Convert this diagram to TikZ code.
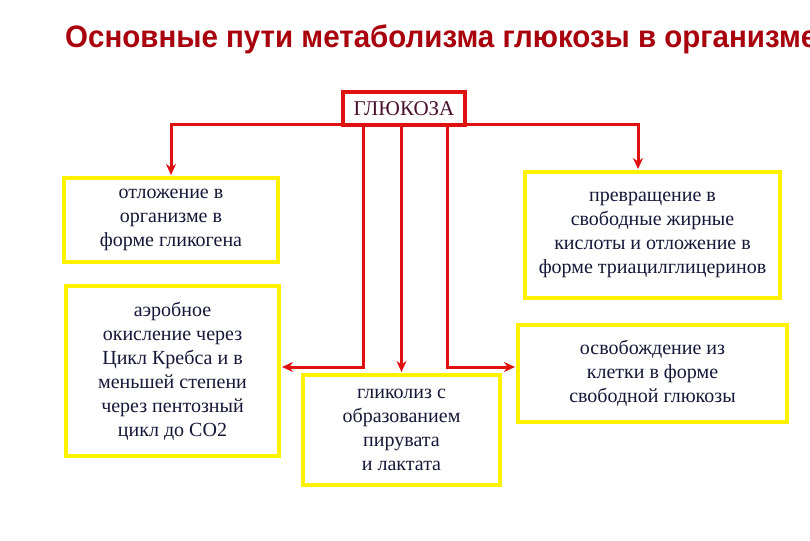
\documentclass[tikz,border=0pt]{standalone}
\usepackage{fontspec}
\setmainfont{Liberation Serif}
\newfontfamily\titlefont{Liberation Sans}
\usetikzlibrary{arrows.meta,calc}
\definecolor{titlered}{HTML}{A8000C}
\definecolor{arrred}{HTML}{E01010}
\definecolor{boxyel}{HTML}{FFF200}
\definecolor{txtnavy}{HTML}{151838}
\definecolor{gluc}{HTML}{4A1030}
\newlength{\ttlw}
\settowidth{\ttlw}{\titlefont\bfseries\fontsize{31pt}{34pt}\selectfont Основные пути метаболизма глюкозы в организме}
\tikzset{
  ybox/.style={draw=boxyel, line width=4pt, fill=white, align=center, text=txtnavy,
    font=\fontsize{20pt}{24pt}\selectfont, inner sep=0pt},
  arr/.style={draw=arrred, line width=3pt, -{Stealth[length=11pt,width=10pt]}, shorten >=1pt},
}
\begin{document}
\begin{tikzpicture}[x=1pt,y=-1pt]
\useasboundingbox (0,0) rectangle (810,540);
\fill[white] (0,0) rectangle (810,540);
\pgfmathsetmacro{\sx}{752/\ttlw}
% title
\node[anchor=base west, inner sep=0pt, text=titlered, xscale=\sx,
  font=\titlefont\bfseries\fontsize{31pt}{34pt}\selectfont] (title) at (65,48)
  {Основные пути метаболизма глюкозы в организме};
% boxes
\node[ybox, minimum width=214pt, minimum height=84pt] (b1) at (171,220)
  {отложение в\\организме в\\форме гликогена};
\node[ybox, minimum width=255pt, minimum height=126pt] (b2) at (652.5,235)
  {превращение в\\свободные жирные\\кислоты и отложение в\\форме триацилглицеринов};
\node[ybox, minimum width=213pt, minimum height=170pt] (b3) at (172.5,371)
  {аэробное\\окисление через\\Цикл Кребса и в\\меньшей степени\\через пентозный\\цикл до СО2};
\node[ybox, minimum width=197pt, minimum height=110pt] (b4) at (401.5,430)
  {гликолиз с\\образованием\\пирувата\\и лактата};
\node[ybox, minimum width=269pt, minimum height=97pt] (b5) at (652.5,373.5)
  {освобождение из\\клетки в форме\\свободной глюкозы};
% connectors
\draw[arr] (404,125) -| (b1.north);
\draw[arr] (404,125) -| ([xshift=-14.5pt]b2.north);
\draw[arr] ([xshift=-41pt]404,125) |- ([yshift=4pt]b3.east);
\draw[arr] (b4.north |- 404,125) -- (b4.north);
\draw[arr] ([xshift=43pt]404,125) |- ([yshift=6.5pt]b5.west);
% glucose
\node[draw=arrred, line width=4pt, fill=white, minimum width=122pt, minimum height=33pt,
  inner sep=0pt, text=gluc, font=\fontsize{21pt}{22pt}\selectfont] (g) at (404,108.5) {ГЛЮКОЗА};
\end{tikzpicture}
\end{document}
